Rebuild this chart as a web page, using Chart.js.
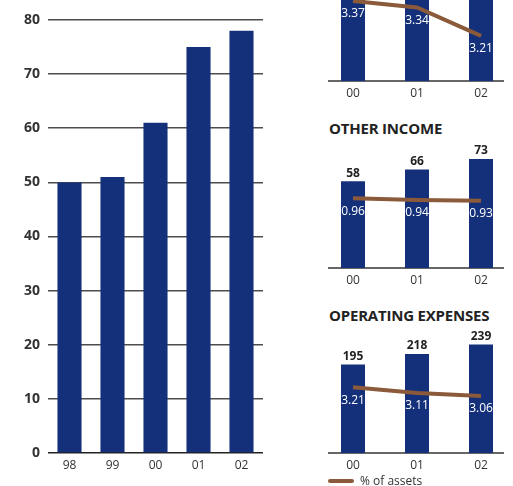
<!DOCTYPE html>
<html>
<head>
<meta charset="utf-8">
<script src="https://cdn.jsdelivr.net/npm/chart.js@4.4.1/dist/chart.umd.min.js"></script>
<style>
  html, body { margin: 0; padding: 0; background: #fff; overflow: hidden; }
  #page { position: relative; width: 513px; height: 486px; overflow: hidden; font-family: 'Open Sans', sans-serif; }
  .box { position: absolute; }
  .title {
    position: absolute;
    font-weight: 700;
    font-size: 15px;
    line-height: 18px;
    letter-spacing: -0.2px;
    color: #222;
    white-space: nowrap;
  }
  #legend {
    position: absolute;
    left: 328px;
    top: 473px;
    height: 16px;
    font-size: 12px;
    line-height: 16px;
    color: #333;
    white-space: nowrap;
  }
  #legend .swatch {
    display: inline-block;
    width: 26px;
    height: 4px;
    border-radius: 2px;
    margin-right: 6px;
    vertical-align: middle;
    position: relative;
    top: -1px;
  }
</style>
</head>
<body>
<div id="page">
  <div class="box" style="left:0;top:0;width:280px;height:486px"><canvas id="chartMain"></canvas></div>
  <div class="box" style="left:310px;top:-47px;width:203px;height:150px"><canvas id="chartInterest"></canvas></div>
  <div class="title" style="left:329px;top:119px">OTHER INCOME</div>
  <div class="box" style="left:310px;top:140px;width:203px;height:150px"><canvas id="chartOther"></canvas></div>
  <div class="title" style="left:329px;top:306px">OPERATING EXPENSES</div>
  <div class="box" style="left:310px;top:325px;width:203px;height:150px"><canvas id="chartExpenses"></canvas></div>
  <div id="legend"></div>
</div>
<script>
  Chart.defaults.font.family = "'Open Sans', sans-serif";
  Chart.defaults.color = '#333';

  var BAR_COLOR = '#15307a';
  var LINE_COLOR = '#8b5a3a';

  // left chart, 5 years
  var yearsLong = ["98", "99", "00", "01", "02"];
  var mainValues = [50, 51, 61, 75, 78];
  var mainTicks = [0, 10, 20, 30, 40, 50, 60, 70, 80];

  // small charts, 3 years
  var yearsShort = ["00", "01", "02"];
  var interestIncome = [204, 234, 251];
  var interestPct = [3.37, 3.34, 3.21];
  var otherIncome = [58, 66, 73];
  var otherPct = [0.96, 0.94, 0.93];
  var opExpenses = [195, 218, 239];
  var opPct = [3.21, 3.11, 3.06];
  var pctLabel = '% of assets';

  new Chart('chartMain', {
    type: 'bar',
    data: {
      labels: yearsLong,
      datasets: [{
        data: mainValues,
        backgroundColor: BAR_COLOR,
        borderWidth: 0,
        barPercentage: 0.56,
        categoryPercentage: 1
      }]
    },
    options: {
      responsive: true,
      maintainAspectRatio: false,
      animation: false,
      layout: { padding: { top: 20, right: 17, left: 0, bottom: 0 } },
      scales: {
        y: {
          min: 0,
          max: 80,
          afterFit: function (scale) { scale.width = 48; },
          afterBuildTicks: function (scale) {
            scale.ticks = mainTicks.map(function (v) { return { value: v }; });
          },
          border: { display: false },
          grid: {
            drawTicks: false,
            lineWidth: 1.6,
            color: function (ctx) { return ctx.tick && ctx.tick.value === 0 ? '#222' : '#4d4d4d'; }
          },
          ticks: {
            padding: 8,
            color: '#333',
            font: { size: 14, weight: 'bold' }
          }
        },
        x: {
          afterFit: function (scale) { scale.height = 33; },
          border: { display: false },
          grid: { display: false, drawTicks: false },
          ticks: { padding: 5, color: '#333', font: { size: 12 } }
        }
      },
      plugins: {
        legend: { display: false },
        tooltip: { enabled: false }
      }
    }
  });

  // value labels: totals above the bars, % of assets in white under the line
  var valueLabels = {
    id: 'valueLabels',
    afterDatasetsDraw: function (chart) {
      var ctx = chart.ctx;
      ctx.save();
      ctx.textAlign = 'center';
      ctx.textBaseline = 'middle';
      var bars = chart.getDatasetMeta(0).data;
      var barData = chart.data.datasets[0].data;
      ctx.fillStyle = '#222';
      ctx.font = "bold 12px 'Open Sans', sans-serif";
      bars.forEach(function (bar, i) {
        ctx.fillText(barData[i], bar.x, bar.y - 8);
      });
      var points = chart.getDatasetMeta(1).data;
      var lineData = chart.data.datasets[1].data;
      ctx.fillStyle = '#fff';
      ctx.font = "12px 'Open Sans', sans-serif";
      points.forEach(function (pt, i) {
        ctx.fillText(lineData[i].toFixed(2), pt.x, pt.y + 13);
      });
      ctx.restore();
    }
  };

  // short baseline under the three bars
  var baseline = {
    id: 'baseline',
    beforeDatasetsDraw: function (chart) {
      var x = chart.scales.x;
      var ctx = chart.ctx;
      ctx.save();
      ctx.strokeStyle = '#333';
      ctx.lineWidth = 1.5;
      ctx.beginPath();
      ctx.moveTo(x.getPixelForValue(0) - 25, chart.chartArea.bottom);
      ctx.lineTo(x.getPixelForValue(2) + 23, chart.chartArea.bottom);
      ctx.stroke();
      ctx.restore();
    }
  };

  function smallChart(id, bars, pct, yMax, pctMin, pctMax) {
    return new Chart(id, {
      type: 'bar',
      data: {
        labels: yearsShort,
        datasets: [
          {
            label: 'Total',
            data: bars,
            backgroundColor: BAR_COLOR,
            borderWidth: 0,
            barPercentage: 0.375,
            categoryPercentage: 1,
            order: 1
          },
          {
            type: 'line',
            label: pctLabel,
            data: pct,
            yAxisID: 'y1',
            borderColor: LINE_COLOR,
            borderWidth: 4,
            pointRadius: 0,
            tension: 0,
            order: 0
          }
        ]
      },
      options: {
        responsive: true,
        maintainAspectRatio: false,
        animation: false,
        layout: { padding: { top: 10, left: 11, right: 0, bottom: 0 } },
        scales: {
          y: { display: false, min: 0, max: yMax },
          y1: { display: false, min: pctMin, max: pctMax },
          x: {
            afterFit: function (scale) { scale.height = 22; },
            border: { display: false },
            grid: { display: false, drawTicks: false },
            ticks: { padding: 5, color: '#333', font: { size: 12 } }
          }
        },
        plugins: {
          legend: { display: false },
          tooltip: { enabled: false }
        }
      },
      plugins: [baseline, valueLabels]
    });
  }

  smallChart('chartInterest', interestIncome, interestPct, 280, 3.003, 3.544);
  smallChart('chartOther', otherIncome, otherPct, 79, 0.089, 1.564);
  smallChart('chartExpenses', opExpenses, opPct, 260, 2.077, 4.111);

  // shared legend for the % of assets line
  var legend = document.getElementById('legend');
  var swatch = document.createElement('span');
  swatch.className = 'swatch';
  swatch.style.background = LINE_COLOR;
  legend.appendChild(swatch);
  legend.appendChild(document.createTextNode(pctLabel));
</script>
</body>
</html>
